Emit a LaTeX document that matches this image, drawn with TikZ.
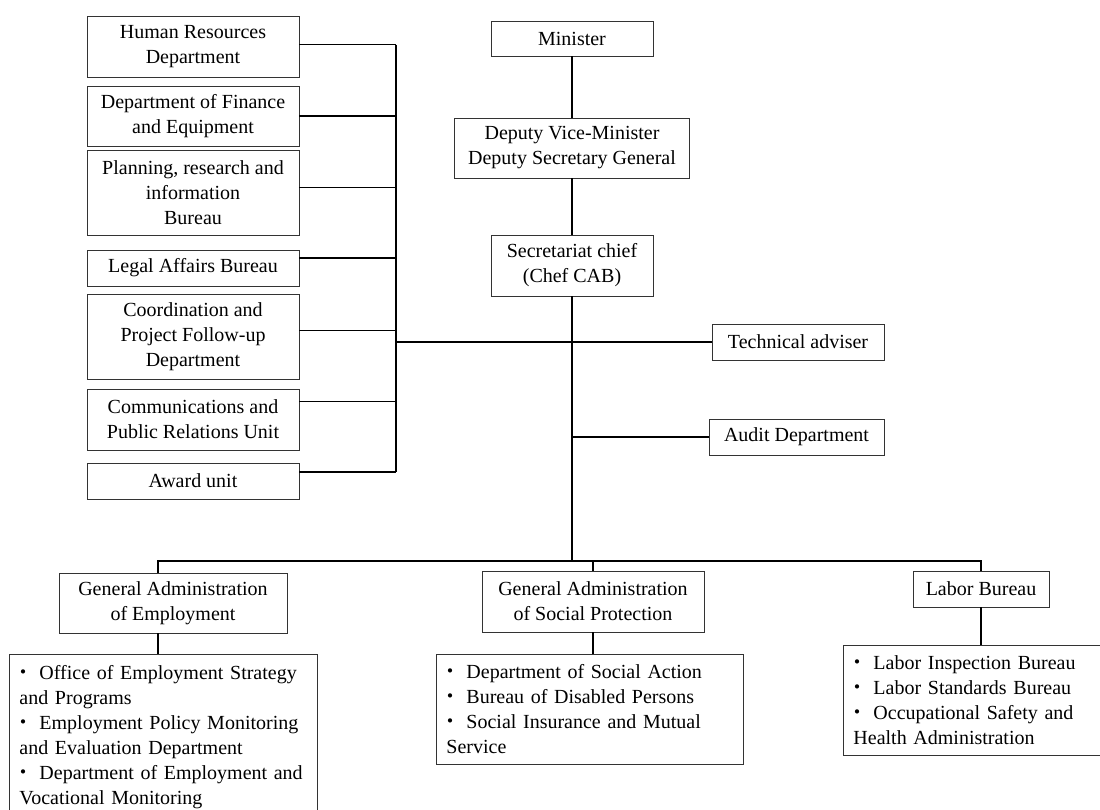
\documentclass[tikz,border=0pt]{standalone}
\usepackage{fontspec}
\setmainfont{Liberation Serif}
\newfontfamily\cjkfont{Noto Sans CJK JP}
\newcommand\listdot{\makebox[1em][l]{\hspace{-0.3em}\smash{\cjkfont ・}}}

\begin{document}
\begin{tikzpicture}[x=1pt,y=-1pt,
  font=\fontsize{20}{25}\selectfont,
  unit/.style 2 args={draw=black!80, line width=0.9pt, align=center,
    inner sep=0pt, minimum width=#1, minimum height=#2},
  units/.style 2 args={draw=black!80, line width=0.9pt, align=left,
    anchor=north west, inner xsep=10pt, inner ysep=0pt,
    text width=#1, minimum height=#2},
  link/.style={line width=1.2pt}]

  \useasboundingbox (0,0) rectangle (1100,809);
  \clip (0,0) rectangle (1100,809);

  % Top of the chain
  \node[unit={162pt}{35pt}] (minister) at (572,38.5) {Minister};
  \node[unit={235pt}{60pt}] (deputy) at (572,148) {Deputy Vice-Minister\\Deputy Secretary General};
  \node[unit={162pt}{61pt}] (chief) at (572,265.5) {Secretariat chief\\(Chef CAB)};
  \node[unit={172pt}{36pt}] (adviser) at (798,342) {Technical adviser};
  \node[unit={175pt}{36pt}] (audit) at (796.5,437) {Audit Department};

  % Left column
  \node[unit={212pt}{61pt}] (hr) at (193,46.5) {Human Resources\\Department};
  \node[unit={212pt}{60pt}] (finance) at (193,116) {Department of Finance\\and Equipment};
  \node[unit={212pt}{85pt}] (planning) at (193,192.5) {Planning, research and\\information\\Bureau};
  \node[unit={212pt}{36pt}] (legal) at (193,268) {Legal Affairs Bureau};
  \node[unit={212pt}{85pt}] (coord) at (193,336.5) {Coordination and\\Project Follow-up\\Department};
  \node[unit={212pt}{61pt}] (comm) at (193,419.5) {Communications and\\Public Relations Unit};
  \node[unit={212pt}{36pt}] (award) at (193,481) {Award unit};

  % General administrations
  \node[unit={228pt}{60pt}] (employ) at (173,603) {General Administration\\of Employment};
  \node[unit={222pt}{61pt}] (social) at (593,601.5) {General Administration\\of Social Protection};
  \node[unit={136pt}{36pt}] (labor) at (981,589) {Labor Bureau};

  % Lists of units
  \node[units={288pt}{165pt}] (employlist) at (9,654) {\listdot Office of Employment Strategy\\and Programs\\\listdot Employment Policy Monitoring\\and Evaluation Department\\\listdot Department of Employment and\\Vocational Monitoring};
  \node[units={287pt}{110pt}] (sociallist) at (436,654) {\listdot Department of Social Action\\\listdot Bureau of Disabled Persons\\\listdot Social Insurance and Mutual\\Service};
  \node[units={264pt}{110pt}] (laborlist) at (843,645) {\listdot Labor Inspection Bureau\\\listdot Labor Standards Bureau\\\listdot Occupational Safety and\\Health Administration};

  % Connectors
  \coordinate (leftbus) at (396,0);
  \coordinate (busline) at (0,561);

  \draw[link] (minister) -- (deputy);
  \draw[link] (deputy) -- (chief);
  \draw[link] (chief.south) -- (chief.south |- busline);

  \foreach \n/\s in {hr/2,finance/0,planning/5,legal/10,coord/6,comm/18,award/9}
    \draw[link] ([yshift=\s pt]\n.east) coordinate (p-\n) -- (p-\n -| leftbus);
  \draw[link] (p-hr -| leftbus) -- (p-award -| leftbus);

  \draw[link] (adviser.west -| leftbus) -- (adviser.west);
  \draw[link] (audit.west -| chief.south) -- (audit.west);

  \draw[link] ([xshift=-15pt]employ.north) |- (labor.north |- busline) -- (labor.north);
  \draw[link] (social.north) -- (social.north |- busline);
  \draw[link] ([xshift=-15pt]employ.south) coordinate (e-s) -- (e-s |- employlist.north);
  \draw[link] (social.south) -- (social.south |- sociallist.north);
  \draw[link] (labor.south) -- (labor.south |- laborlist.north);
\end{tikzpicture}
\end{document}
